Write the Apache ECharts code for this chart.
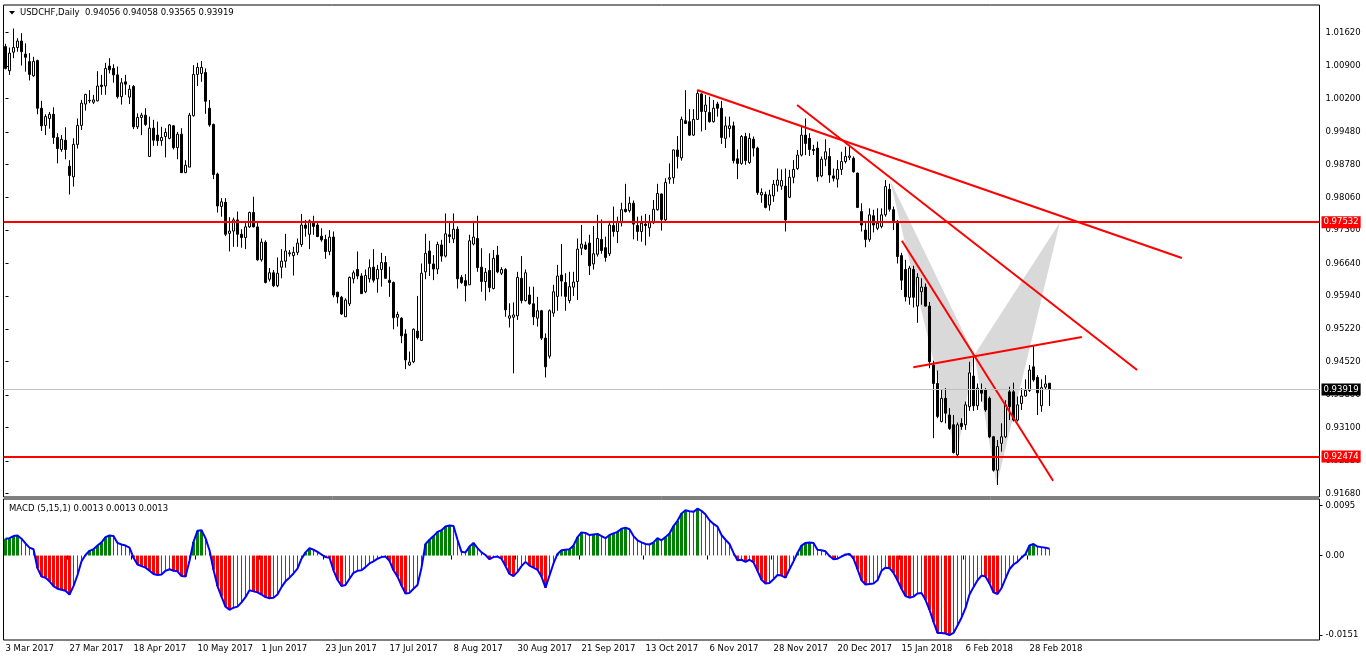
<!DOCTYPE html>
<html><head><meta charset="utf-8">
<script src="https://cdn.jsdelivr.net/npm/echarts@6/dist/echarts.min.js"></script>
<style>html,body{margin:0;padding:0;background:#fff;}#c{width:1366px;height:665px;}</style>
</head><body><div id="c"></div>
<script>
const symbolName = 'USDCHF,Daily';
const macdName = 'MACD (5,15,1)';
const dateLabels = ['3 Mar 2017','27 Mar 2017','18 Apr 2017','10 May 2017','1 Jun 2017','23 Jun 2017','17 Jul 2017','8 Aug 2017','30 Aug 2017','21 Sep 2017','13 Oct 2017','6 Nov 2017','28 Nov 2017','20 Dec 2017','15 Jan 2018','6 Feb 2018','28 Feb 2018'];
const labelEvery = 16;
const priceTicks = [1.0162,1.009,1.002,0.9948,0.9878,0.9806,0.9736,0.9664,0.9594,0.9522,0.9452,0.938,0.931,0.9238,0.9168];
const macdTicks = [0.0095, 0, -0.0151];

const opens = [1.0132,1.0080,1.0120,1.0130,1.0144,1.0116,1.0100,1.0069,1.0102,0.9999,
0.9962,0.9977,0.9986,0.9936,0.9910,0.9930,0.9874,0.9851,0.9921,0.9962,
1.0008,1.0015,1.0012,1.0015,1.0049,1.0047,1.0090,1.0085,1.0071,1.0024,
1.0056,1.0023,1.0046,0.9959,0.9979,0.9984,0.9895,0.9956,0.9941,0.9929,
0.9938,0.9934,0.9961,0.9914,0.9943,0.9860,0.9872,0.9983,1.0072,1.0074,
1.0076,0.9999,0.9964,0.9857,0.9787,0.9796,0.9729,0.9734,0.9758,0.9727,
0.9720,0.9743,0.9774,0.9743,0.9672,0.9710,0.9630,0.9644,0.9616,0.9656,
0.9669,0.9685,0.9681,0.9688,0.9705,0.9747,0.9727,0.9753,0.9747,0.9723,
0.9716,0.9690,0.9721,0.9602,0.9591,0.9549,0.9577,0.9631,0.9651,0.9637,
0.9603,0.9631,0.9656,0.9631,0.9651,0.9666,0.9628,0.9623,0.9548,0.9546,
0.9512,0.9445,0.9452,0.9518,0.9498,0.9646,0.9691,0.9663,0.9652,0.9704,
0.9680,0.9726,0.9717,0.9738,0.9634,0.9627,0.9618,0.9706,0.9718,0.9656,
0.9625,0.9649,0.9610,0.9682,0.9643,0.9651,0.9546,0.9548,0.9551,0.9632,
0.9584,0.9596,0.9577,0.9546,0.9562,0.9503,0.9464,0.9557,0.9593,0.9639,
0.9623,0.9584,0.9613,0.9625,0.9697,0.9704,0.9708,0.9663,0.9684,0.9716,
0.9698,0.9685,0.9746,0.9733,0.9752,0.9781,0.9778,0.9794,0.9746,0.9733,
0.9749,0.9741,0.9752,0.9780,0.9814,0.9758,0.9846,0.9849,0.9909,0.9892,
0.9972,0.9970,0.9941,0.9975,1.0030,0.9992,0.9990,0.9970,1.0008,0.9999,
0.9934,0.9955,0.9961,0.9890,0.9880,0.9938,0.9882,0.9932,0.9913,0.9812,
0.9813,0.9790,0.9810,0.9833,0.9831,0.9831,0.9807,0.9850,0.9869,0.9898,
0.9941,0.9934,0.9910,0.9913,0.9853,0.9889,0.9895,0.9853,0.9846,0.9867,
0.9884,0.9893,0.9891,0.9859,0.9776,0.9736,0.9716,0.9767,0.9740,0.9744,
0.9769,0.9824,0.9780,0.9754,0.9681,0.9651,0.9591,0.9651,0.9572,0.9603,
0.9613,0.9572,0.9445,0.9405,0.9323,0.9373,0.9337,0.9316,0.9251,0.9319,
0.9316,0.9355,0.9421,0.9357,0.9391,0.9391,0.9373,0.9290,0.9218,0.9276,
0.9290,0.9387,0.9387,0.9326,0.9362,0.9378,0.9390,0.9441,0.9418,0.9357,
0.9397,0.94056];
const highs = [1.0138,1.0130,1.0171,1.0150,1.0161,1.0139,1.0118,1.0110,1.0104,1.0015,
0.9986,0.9991,1.0001,0.9945,0.9941,0.9958,0.9887,0.9934,0.9977,1.0017,
1.0030,1.0038,1.0028,1.0079,1.0071,1.0097,1.0107,1.0094,1.0089,1.0064,
1.0071,1.0049,1.0049,0.9988,0.9989,0.9999,0.9981,0.9974,0.9970,0.9959,
0.9956,0.9965,0.9963,0.9948,0.9956,0.9887,0.9989,1.0092,1.0097,1.0101,
1.0085,1.0017,0.9966,0.9860,0.9805,0.9805,0.9764,0.9763,0.9776,0.9738,
0.9754,0.9776,0.9808,0.9751,0.9718,0.9714,0.9654,0.9650,0.9677,0.9695,
0.9728,0.9693,0.9700,0.9718,0.9771,0.9758,0.9759,0.9767,0.9754,0.9740,
0.9726,0.9736,0.9733,0.9603,0.9594,0.9589,0.9636,0.9649,0.9690,0.9643,
0.9651,0.9673,0.9695,0.9661,0.9687,0.9680,0.9657,0.9625,0.9560,0.9548,
0.9522,0.9474,0.9524,0.9594,0.9664,0.9728,0.9713,0.9682,0.9711,0.9715,
0.9772,0.9754,0.9772,0.9744,0.9639,0.9641,0.9726,0.9756,0.9767,0.9697,
0.9654,0.9686,0.9693,0.9702,0.9656,0.9654,0.9578,0.9580,0.9646,0.9680,
0.9651,0.9614,0.9614,0.9592,0.9564,0.9513,0.9565,0.9618,0.9661,0.9706,
0.9643,0.9646,0.9646,0.9718,0.9747,0.9711,0.9726,0.9745,0.9769,0.9759,
0.9722,0.9756,0.9787,0.9765,0.9795,0.9836,0.9808,0.9800,0.9765,0.9767,
0.9771,0.9769,0.9801,0.9836,0.9815,0.9848,0.9880,0.9910,0.9939,0.9981,
1.0038,0.9997,0.9997,1.0038,1.0031,1.0028,1.0024,1.0017,1.0013,1.0015,
0.9981,0.9981,0.9970,0.9910,0.9941,0.9946,0.9945,0.9938,0.9916,0.9826,
0.9819,0.9823,0.9844,0.9869,0.9867,0.9869,0.9866,0.9887,0.9909,0.9961,
0.9977,0.9945,0.9920,0.9927,0.9895,0.9932,0.9913,0.9869,0.9887,0.9905,
0.9916,0.9920,0.9895,0.9860,0.9794,0.9751,0.9783,0.9780,0.9783,0.9783,
0.9844,0.9836,0.9787,0.9758,0.9687,0.9672,0.9659,0.9659,0.9643,0.9632,
0.9621,0.9581,0.9454,0.9433,0.9391,0.9395,0.9352,0.9337,0.9321,0.9330,
0.9366,0.9452,0.9463,0.9405,0.9405,0.9395,0.9377,0.9292,0.9283,0.9319,
0.9369,0.9398,0.9407,0.9377,0.9395,0.9414,0.9445,0.9486,0.9423,0.9414,
0.9423,0.94058];
const lows = [1.0083,1.0071,1.0107,1.0121,1.0091,1.0078,1.0059,1.0067,0.9986,0.9950,
0.9941,0.9955,0.9922,0.9880,0.9905,0.9889,0.9813,0.9830,0.9912,0.9952,
0.9994,1.0010,1.0008,1.0014,1.0028,1.0028,1.0074,1.0054,1.0020,1.0007,
1.0028,1.0008,0.9954,0.9954,0.9941,0.9961,0.9895,0.9918,0.9918,0.9918,
0.9893,0.9932,0.9910,0.9889,0.9860,0.9859,0.9872,0.9981,1.0047,1.0056,
0.9987,0.9959,0.9846,0.9774,0.9765,0.9723,0.9690,0.9700,0.9700,0.9698,
0.9695,0.9741,0.9742,0.9670,0.9668,0.9621,0.9625,0.9613,0.9613,0.9632,
0.9655,0.9679,0.9638,0.9682,0.9700,0.9722,0.9695,0.9726,0.9721,0.9711,
0.9674,0.9682,0.9591,0.9578,0.9553,0.9549,0.9572,0.9621,0.9630,0.9598,
0.9600,0.9623,0.9623,0.9601,0.9614,0.9631,0.9592,0.9522,0.9528,0.9492,
0.9436,0.9443,0.9449,0.9500,0.9497,0.9630,0.9637,0.9628,0.9641,0.9668,
0.9677,0.9708,0.9708,0.9610,0.9620,0.9582,0.9618,0.9703,0.9646,0.9603,
0.9584,0.9602,0.9608,0.9643,0.9639,0.9549,0.9526,0.9427,0.9542,0.9578,
0.9582,0.9575,0.9531,0.9528,0.9499,0.9418,0.9459,0.9549,0.9562,0.9593,
0.9562,0.9578,0.9594,0.9585,0.9682,0.9693,0.9639,0.9651,0.9679,0.9685,
0.9668,0.9680,0.9722,0.9708,0.9744,0.9774,0.9774,0.9716,0.9713,0.9711,
0.9703,0.9722,0.9749,0.9778,0.9735,0.9756,0.9836,0.9836,0.9869,0.9886,
0.9965,0.9939,0.9939,0.9974,0.9949,0.9952,0.9968,0.9968,0.9981,0.9922,
0.9913,0.9936,0.9880,0.9846,0.9877,0.9877,0.9879,0.9895,0.9812,0.9795,
0.9783,0.9778,0.9797,0.9819,0.9823,0.9733,0.9805,0.9837,0.9866,0.9895,
0.9898,0.9896,0.9898,0.9841,0.9850,0.9874,0.9838,0.9841,0.9828,0.9855,
0.9880,0.9887,0.9860,0.9784,0.9733,0.9699,0.9711,0.9731,0.9736,0.9740,
0.9765,0.9776,0.9736,0.9664,0.9607,0.9582,0.9575,0.9569,0.9536,0.9575,
0.9571,0.9438,0.9287,0.9330,0.9321,0.9319,0.9305,0.9254,0.9244,0.9305,
0.9305,0.9346,0.9346,0.9348,0.9366,0.9344,0.9287,0.9215,0.9186,0.9258,
0.9287,0.9326,0.9323,0.9323,0.9348,0.9377,0.9387,0.9409,0.9337,0.9344,
0.9391,0.93565];
const closes = [1.0085,1.0118,1.0130,1.0144,1.0121,1.0109,1.0072,1.0100,0.9999,0.9961,
0.9981,0.9986,0.9936,0.9912,0.9932,0.9910,0.9854,0.9921,0.9962,1.0010,
1.0029,1.0016,1.0017,1.0047,1.0046,1.0085,1.0082,1.0071,1.0024,1.0054,
1.0051,1.0040,0.9959,0.9979,0.9984,0.9964,0.9956,0.9930,0.9929,0.9936,
0.9947,0.9963,0.9914,0.9943,0.9860,0.9876,0.9984,1.0072,1.0087,1.0087,
1.0014,0.9963,0.9856,0.9788,0.9797,0.9727,0.9734,0.9758,0.9727,0.9720,
0.9743,0.9774,0.9743,0.9672,0.9710,0.9623,0.9644,0.9616,0.9643,0.9669,
0.9691,0.9687,0.9688,0.9708,0.9747,0.9740,0.9756,0.9744,0.9722,0.9715,
0.9690,0.9721,0.9596,0.9592,0.9555,0.9585,0.9634,0.9644,0.9637,0.9599,
0.9638,0.9655,0.9628,0.9651,0.9666,0.9632,0.9623,0.9547,0.9554,0.9508,
0.9456,0.9451,0.9522,0.9504,0.9643,0.9686,0.9664,0.9652,0.9705,0.9680,
0.9728,0.9722,0.9738,0.9631,0.9623,0.9616,0.9713,0.9721,0.9655,0.9625,
0.9645,0.9612,0.9675,0.9646,0.9651,0.9564,0.9551,0.9553,0.9634,0.9584,
0.9644,0.9577,0.9549,0.9562,0.9503,0.9441,0.9562,0.9603,0.9637,0.9626,
0.9593,0.9614,0.9624,0.9695,0.9706,0.9695,0.9659,0.9685,0.9718,0.9692,
0.9677,0.9747,0.9733,0.9754,0.9780,0.9776,0.9794,0.9749,0.9733,0.9751,
0.9746,0.9752,0.9781,0.9815,0.9759,0.9839,0.9849,0.9909,0.9895,0.9975,
0.9966,0.9941,0.9975,1.0031,0.9992,1.0006,0.9970,0.9999,0.9999,0.9936,
0.9961,0.9961,0.9886,0.9880,0.9938,0.9886,0.9934,0.9913,0.9817,0.9817,
0.9785,0.9812,0.9835,0.9844,0.9843,0.9758,0.9850,0.9867,0.9898,0.9941,
0.9923,0.9910,0.9908,0.9851,0.9889,0.9905,0.9855,0.9848,0.9867,0.9884,
0.9895,0.9896,0.9862,0.9785,0.9747,0.9716,0.9769,0.9747,0.9751,0.9769,
0.9830,0.9781,0.9756,0.9679,0.9628,0.9592,0.9654,0.9591,0.9634,0.9613,
0.9572,0.9452,0.9405,0.9334,0.9373,0.9341,0.9308,0.9256,0.9316,0.9312,
0.9359,0.9428,0.9357,0.9395,0.9384,0.9348,0.9290,0.9218,0.9269,0.9290,
0.9359,0.9355,0.9326,0.9359,0.9378,0.9390,0.9434,0.9413,0.9385,0.9396,
0.9404,0.93919];
const macd = [0.0032,0.0033,0.0037,0.0038,0.0032,0.0023,0.0015,0.0012,-0.0024,-0.0040,
-0.0042,-0.0049,-0.0058,-0.0063,-0.0065,-0.0067,-0.0074,-0.0058,-0.0037,-0.0011,
0.0001,0.0009,0.0012,0.0019,0.0025,0.0035,0.0038,0.0037,0.0024,0.0021,
0.0019,0.0015,-0.0004,-0.0017,-0.0020,-0.0023,-0.0029,-0.0035,-0.0037,-0.0036,
-0.0029,-0.0026,-0.0029,-0.0030,-0.0039,-0.0040,-0.0010,0.0026,0.0047,0.0048,
0.0033,0.0010,-0.0027,-0.0058,-0.0078,-0.0097,-0.0103,-0.0099,-0.0097,-0.0089,
-0.0079,-0.0066,-0.0068,-0.0070,-0.0074,-0.0079,-0.0081,-0.0080,-0.0074,-0.0060,
-0.0049,-0.0042,-0.0034,-0.0025,-0.0006,0.0006,0.0014,0.0011,0.0007,0.0002,
-0.0003,-0.0004,-0.0028,-0.0046,-0.0058,-0.0056,-0.0044,-0.0033,-0.0029,-0.0028,
-0.0022,-0.0015,-0.0011,-0.0006,-0.0003,-0.0002,-0.0010,-0.0028,-0.0040,-0.0057,
-0.0072,-0.0071,-0.0063,-0.0056,-0.0023,0.0022,0.0030,0.0037,0.0045,0.0048,
0.0055,0.0057,0.0056,0.0030,0.0007,0.0006,0.0017,0.0024,0.0014,0.0006,
0.0001,-0.0007,-0.0003,-0.0002,-0.0006,-0.0020,-0.0035,-0.0039,-0.0031,-0.0020,
-0.0012,-0.0019,-0.0023,-0.0027,-0.0040,-0.0061,-0.0038,-0.0015,0.0003,0.0010,
0.0011,0.0012,0.0019,0.0035,0.0044,0.0043,0.0039,0.0040,0.0041,0.0037,
0.0033,0.0039,0.0042,0.0045,0.0051,0.0053,0.0050,0.0037,0.0029,0.0025,
0.0022,0.0021,0.0025,0.0033,0.0029,0.0035,0.0042,0.0056,0.0066,0.0080,
0.0086,0.0084,0.0083,0.0089,0.0085,0.0078,0.0067,0.0060,0.0055,0.0039,
0.0030,0.0022,0.0005,-0.0009,-0.0008,-0.0012,-0.0008,-0.0013,-0.0029,-0.0046,
-0.0053,-0.0052,-0.0045,-0.0037,-0.0038,-0.0042,-0.0026,-0.0011,0.0005,0.0019,
0.0024,0.0025,0.0024,0.0011,0.0010,0.0008,-0.0001,-0.0007,-0.0006,-0.0002,
0.0002,0.0003,-0.0006,-0.0026,-0.0047,-0.0055,-0.0054,-0.0053,-0.0047,-0.0029,
-0.0023,-0.0024,-0.0033,-0.0047,-0.0063,-0.0077,-0.0080,-0.0078,-0.0072,-0.0071,
-0.0084,-0.0103,-0.0126,-0.0147,-0.0147,-0.0148,-0.0151,-0.0147,-0.0133,-0.0118,
-0.0100,-0.0074,-0.0060,-0.0047,-0.0038,-0.0040,-0.0053,-0.0070,-0.0073,-0.0062,
-0.0044,-0.0026,-0.0017,-0.0012,-0.0004,0.0003,0.0019,0.0022,0.0017,0.0016,
0.0015,0.0013];

// horizontal levels and drawn objects, as (bar index, price)
const levels = [0.97532, 0.92474];
const trendLines = [
  [[172.9, 1.00384], [294.1, 0.96758]],
  [[197.9, 1.00060], [282.9, 0.94341]],
  [[224.1, 0.97132], [261.9, 0.91953]],
  [[226.95, 0.94400], [269.1, 0.95054]]
];
const patternTriangles = [
  [[221.1, 0.98442], [237.8, 0.92470], [242.2, 0.94665]],
  [[242.2, 0.94665], [247.8, 0.91860], [263.6, 0.97530]]
];

const N_SLOTS = 329;
const slots = Array.from({length: N_SLOTS}, (_, i) => String(i));
const last = closes.length - 1;
const FONT = 'DejaVu Sans';
const FS = 8.5;

const candleData = opens.map((o, i) => [o, closes[i], lows[i], highs[i]]);
const thickData = macd.map((v, i) => {
  const p = i > 0 ? macd[i - 1] : 0;
  return (v >= 0 ? v > p : v < p) ? v : null;
});
const thinData = macd.map((v, i) => thickData[i] === null ? v : null);
const histColor = p => (p.value >= 0 ? '#008000' : '#ff0000');

const chart = echarts.init(document.getElementById('c'), null, {renderer: 'canvas'});
const lvlLabel = (bg) => ({show: true, position: 'end', distance: 2, formatter: p => Number(p.value).toFixed(5),
  backgroundColor: bg, color: '#ffffff', padding: [2, 2, 1, 2], fontFamily: FONT, fontSize: FS});

chart.setOption({
  animation: false,
  backgroundColor: '#ffffff',
  grid: [
    {left: 3.5, top: 5, width: 1316, height: 492, show: true, borderColor: '#000', borderWidth: 1, backgroundColor: '#fff'},
    {left: 3.5, top: 499, width: 1316, height: 141, show: true, borderColor: '#000', borderWidth: 1, backgroundColor: '#fff'}
  ],
  xAxis: [
    {type: 'category', gridIndex: 0, data: slots, boundaryGap: true, show: false},
    {type: 'category', gridIndex: 1, data: slots, boundaryGap: true,
      axisLine: {show: false},
      axisTick: {show: true, length: 4, lineStyle: {color: '#000'},
        interval: i => i % labelEvery === 0 && i / labelEvery < dateLabels.length},
      axisLabel: {show: true, align: 'left', margin: 4, color: '#000', fontFamily: FONT, fontSize: FS,
        interval: i => i % labelEvery === 0 && i / labelEvery < dateLabels.length,
        formatter: (v, i) => dateLabels[i / labelEvery] || ''},
      splitLine: {show: false}},
    {type: 'value', gridIndex: 0, min: -0.5, max: N_SLOTS - 0.5, show: false},
    {type: 'category', gridIndex: 1, data: slots, boundaryGap: true, show: false}
  ],
  yAxis: [
    {type: 'value', gridIndex: 0, position: 'right', min: 0.91601, max: 1.02218, scale: true,
      axisLine: {show: false},
      axisTick: {show: true, length: 3, customValues: priceTicks, lineStyle: {color: '#000'}},
      axisLabel: {show: true, customValues: priceTicks, formatter: v => v.toFixed(5), margin: 6,
        color: '#000', fontFamily: FONT, fontSize: FS},
      splitLine: {show: false}},
    {type: 'value', gridIndex: 1, position: 'right', min: -0.01604, max: 0.01074,
      axisLine: {show: false},
      axisTick: {show: true, length: 3, customValues: macdTicks, lineStyle: {color: '#000'}},
      axisLabel: {show: true, customValues: macdTicks, formatter: v => (v === 0 ? '0.00' : v.toFixed(4)), margin: 6,
        color: '#000', fontFamily: FONT, fontSize: FS},
      splitLine: {show: false}}
  ],
  graphic: [
    {type: 'polygon', shape: {points: [[9, 11], [15, 11], [12, 14.5]]}, style: {fill: '#000'}},
    {type: 'text', x: 20, y: 13, style: {text: symbolName + '  ' + [opens[last], highs[last], lows[last], closes[last]].map(v => v.toFixed(5)).join(' '),
      fill: '#000', font: FS + 'px ' + FONT, verticalAlign: 'middle'}},
    {type: 'text', x: 9, y: 508.5, style: {text: macdName + ' ' + [macd[last], macd[last], macd[last]].map(v => v.toFixed(4)).join(' '),
      fill: '#000', font: FS + 'px ' + FONT, verticalAlign: 'middle'}}
  ],
  series: [
    {type: 'custom', name: 'pattern', xAxisIndex: 2, yAxisIndex: 0, z: 1, silent: true,
      data: patternTriangles.map(t => [t[0][0], t[0][1], t[1][0], t[1][1], t[2][0], t[2][1]]),
      encode: {x: [0, 2, 4], y: [1, 3, 5]},
      renderItem: (params, api) => {
        const pts = [0, 2, 4].map(k => api.coord([api.value(k), api.value(k + 1)]));
        return {type: 'polygon', shape: {points: pts}, style: {fill: '#d9d9d9', stroke: null}};
      }},
    {type: 'candlestick', name: 'USDCHF', xAxisIndex: 0, yAxisIndex: 0, z: 2, barWidth: 3,
      data: candleData,
      itemStyle: {color: '#ffffff', color0: '#000000', borderColor: '#000000', borderColor0: '#000000', borderWidth: 1},
      markLine: {symbol: ['none', 'none'], silent: true, animation: false, precision: 5,
        data: [
          {yAxis: closes[last], lineStyle: {color: '#c0c0c0', width: 1, type: 'solid'}, label: lvlLabel('#000000')},
          ...levels.map(v => ({yAxis: v, lineStyle: {color: '#ff0000', width: 2, type: 'solid'}, label: lvlLabel('#ff0000')}))
        ]}},
    {type: 'custom', name: 'trendlines', xAxisIndex: 2, yAxisIndex: 0, z: 3, silent: true,
      data: trendLines.map(l => [l[0][0], l[0][1], l[1][0], l[1][1]]),
      encode: {x: [0, 2], y: [1, 3]},
      renderItem: (params, api) => {
        const a = api.coord([api.value(0), api.value(1)]);
        const b = api.coord([api.value(2), api.value(3)]);
        return {type: 'line', shape: {x1: a[0], y1: a[1], x2: b[0], y2: b[1]}, style: {stroke: '#ff0000', lineWidth: 2}};
      }},
    {type: 'bar', name: 'hist-thick', xAxisIndex: 1, yAxisIndex: 1, barWidth: 3, data: thickData,
      itemStyle: {color: histColor}, silent: true},
    {type: 'bar', name: 'hist-thin', xAxisIndex: 3, yAxisIndex: 1, barWidth: 1, data: thinData,
      itemStyle: {color: histColor}, silent: true},
    {type: 'line', name: 'MACD', xAxisIndex: 1, yAxisIndex: 1, data: macd, showSymbol: false, symbol: 'none',
      lineStyle: {color: '#0000ff', width: 2}, z: 5, silent: true}
  ]
});
</script></body></html>
